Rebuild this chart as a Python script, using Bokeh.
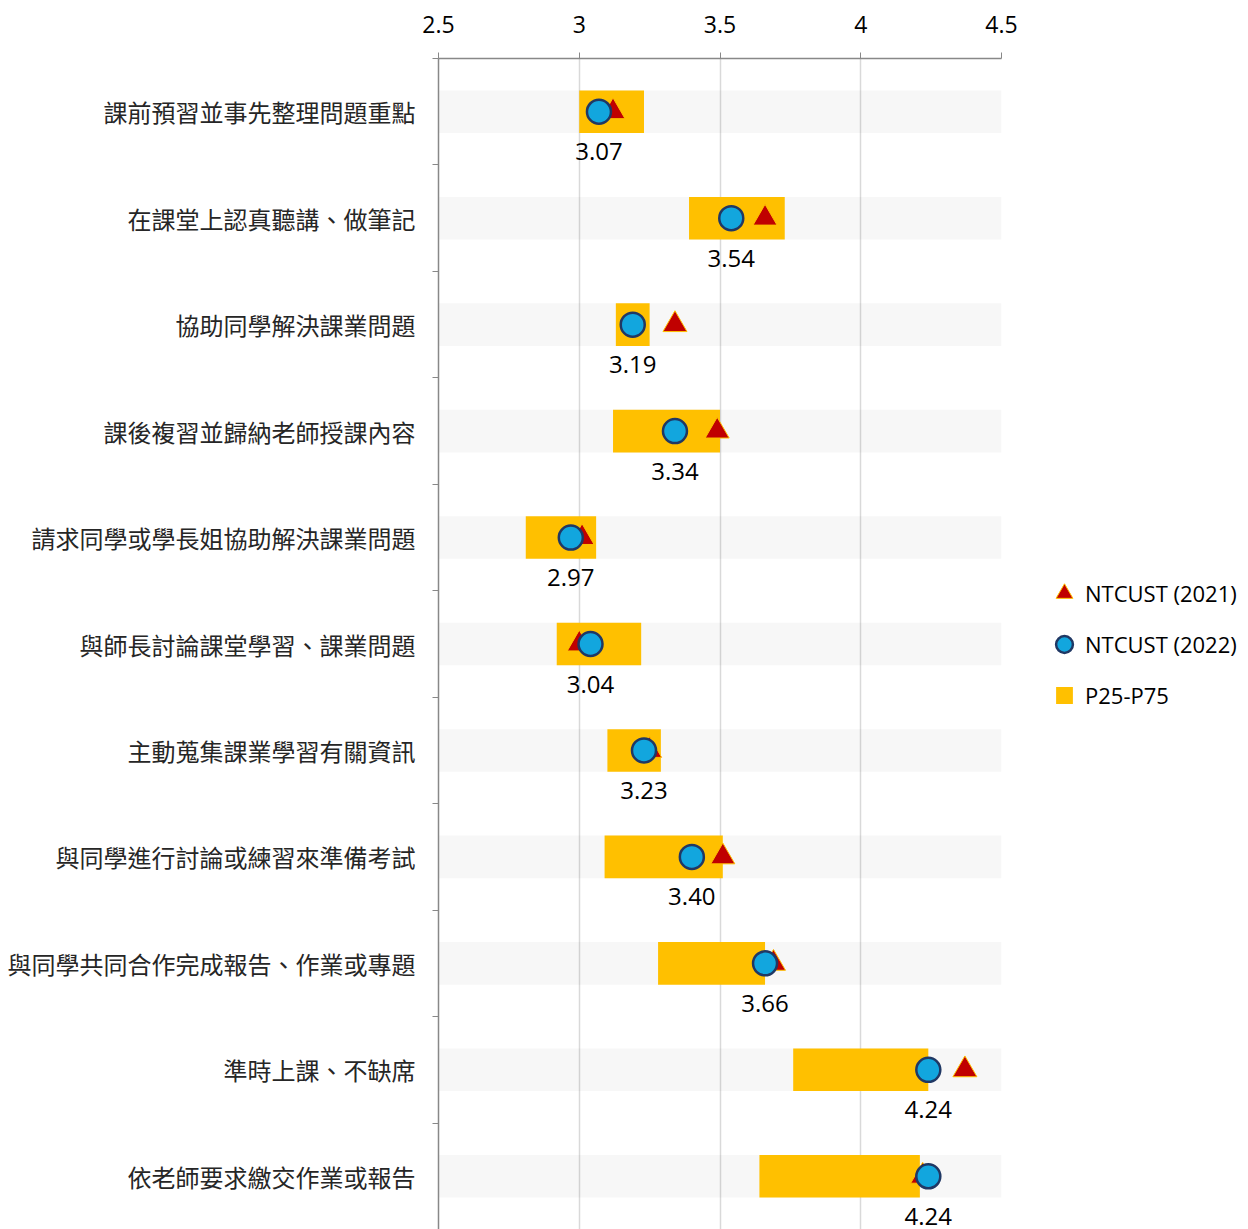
from bokeh.plotting import figure
from bokeh.models import Range1d, FixedTicker, Legend, LegendItem
from bokeh.core.properties import value
from bokeh.embed import file_html
from bokeh.resources import INLINE

categories = [
    "課前預習並事先整理問題重點",
    "在課堂上認真聽講、做筆記",
    "協助同學解決課業問題",
    "課後複習並歸納老師授課內容",
    "請求同學或學長姐協助解決課業問題",
    "與師長討論課堂學習、課業問題",
    "主動蒐集課業學習有關資訊",
    "與同學進行討論或練習來準備考試",
    "與同學共同合作完成報告、作業或專題",
    "準時上課、不缺席",
    "依老師要求繳交作業或報告",
]
p25 = [3.00, 3.39, 3.13, 3.12, 2.81, 2.92, 3.10, 3.09, 3.28, 3.76, 3.64]
p75 = [3.23, 3.73, 3.25, 3.50, 3.06, 3.22, 3.29, 3.51, 3.66, 4.24, 4.21]
ntcust_2021 = [3.12, 3.66, 3.34, 3.49, 3.01, 3.00, 3.25, 3.51, 3.69, 4.37, 4.22]
ntcust_2022 = [3.07, 3.54, 3.19, 3.34, 2.97, 3.04, 3.23, 3.40, 3.66, 4.24, 4.24]
x_ticks = [2.5, 3.0, 3.5, 4.0, 4.5]
x_tick_labels = ["2.5", "3", "3.5", "4", "4.5"]

n = len(categories)
ypos = [i + 0.5 for i in range(n)]
labels_2022 = [f"{v:.2f}" for v in ntcust_2022]

p = figure(
    frame_width=563, frame_height=1171,
    x_range=Range1d(x_ticks[0], x_ticks[-1]), y_range=Range1d(n, 0),
    x_axis_location="above",
    output_backend="svg", toolbar_location=None,
    min_border_left=438, min_border_top=58, min_border_bottom=0, min_border_right=0,
)
p.outline_line_color = None
p.background_fill_color = "white"

# x axis (top)
xa = p.xaxis[0]
xa.ticker = FixedTicker(ticks=x_ticks)
xa.major_label_overrides = dict(zip(x_ticks, x_tick_labels))
xa.axis_line_color = "#888888"
xa.axis_line_width = 1.5
xa.major_tick_line_color = "#888888"
xa.major_tick_out = 6
xa.major_tick_in = 0
xa.minor_tick_line_color = None
xa.major_label_text_font = "Open Sans"
xa.major_label_text_font_size = "23px"
xa.major_label_text_color = "black"
xa.major_label_standoff = 20

# y axis (left)
ya = p.yaxis[0]
ya.ticker = FixedTicker(ticks=ypos, minor_ticks=list(range(n)))
ya.major_label_overrides = dict(zip(ypos, categories))
ya.axis_line_color = "#888888"
ya.axis_line_width = 1.5
ya.major_tick_line_color = None
ya.major_tick_out = 0
ya.major_tick_in = 0
ya.minor_tick_line_color = "#888888"
ya.minor_tick_out = 6
ya.minor_tick_in = 0
ya.major_label_text_font = "Noto Sans CJK TC"
ya.major_label_text_font_size = "24px"
ya.major_label_text_color = "#262626"
ya.major_label_standoff = 17

p.ygrid.visible = False
p.xgrid.grid_line_color = "#D9D9D9"
p.xgrid.grid_line_width = 1.5

# background bands
p.hbar(y=ypos, left=x_ticks[0], right=x_ticks[-1], height=0.4,
       fill_color="black", fill_alpha=0.03, line_color=None)

bars = p.hbar(y=ypos, left=p25, right=p75, height=0.4,
              fill_color="#FFC000", line_color=None)
tri = p.scatter(x=ntcust_2021, y=ypos, marker="triangle", size=24,
                fill_color="#C00000", line_color="#FFC000", line_width=1)
circ = p.scatter(x=ntcust_2022, y=ypos, marker="circle", size=24,
                 fill_color="#12A6DE", line_color="#203864", line_width=2.5)
p.text(x=ntcust_2022, y=ypos, text=labels_2022, y_offset=40,
       text_align="center", text_baseline="middle",
       text_font=value("Open Sans"), text_font_size="24px", text_color="black")

# legend swatch for the P25-P75 bars (zero-size markers, invisible in the plot)
bar_swatch = p.scatter(x=p25, y=ypos, marker="square", size=0,
                       fill_color="#FFC000", line_color=None)

legend = Legend(
    items=[
        LegendItem(label="NTCUST (2021)", renderers=[tri]),
        LegendItem(label="NTCUST (2022)", renderers=[circ]),
        LegendItem(label="P25-P75", renderers=[bar_swatch]),
    ],
    location="center_left",
    margin=42, padding=0,
    border_line_color=None, background_fill_alpha=0,
    label_text_font="Open Sans", label_text_font_size="22px",
    label_text_color="black",
    glyph_width=42, glyph_height=51, label_standoff=0, spacing=0,
)
p.add_layout(legend, "right")

open("out.html", "w").write(file_html(p, INLINE))
